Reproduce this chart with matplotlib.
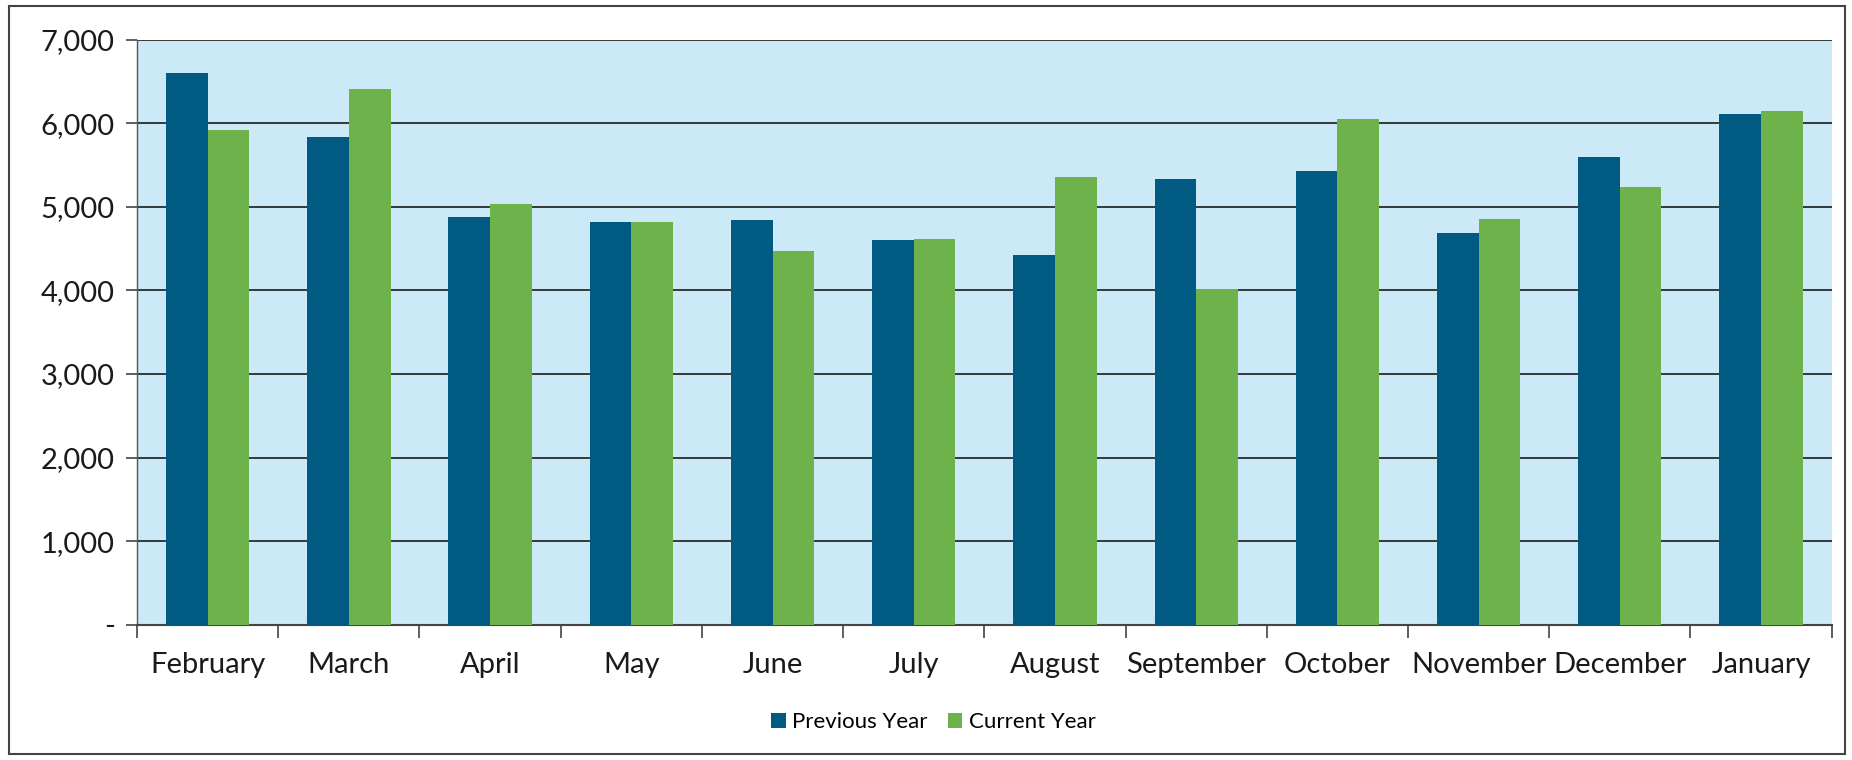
import matplotlib
matplotlib.use("Agg")
import matplotlib.pyplot as plt
import numpy as np
from matplotlib.patches import Rectangle
from matplotlib.ticker import FuncFormatter

months = ["February", "March", "April", "May", "June", "July", "August",
          "September", "October", "November", "December", "January"]
previous_year = [6600, 5830, 4880, 4820, 4840, 4600, 4420, 5330, 5430, 4690, 5600, 6110]
current_year = [5920, 6410, 5030, 4820, 4470, 4610, 5360, 4020, 6050, 4850, 5230, 6140]
series_names = ["Previous Year", "Current Year"]
y_ticks = [0, 1000, 2000, 3000, 4000, 5000, 6000, 7000]

plt.rcParams['font.family'] = ['Lato', 'DejaVu Sans']

fig = plt.figure(figsize=(18.52, 7.6), dpi=100)
fig.patch.set_facecolor("white")
ax = fig.add_axes([0.074, 0.178, 0.915, 0.77])
ax.set_facecolor("#CBE9F7")

x = np.arange(len(months))
w = 0.295
ax.bar(x - w / 2, previous_year, width=w, color="#005A82", label=series_names[0], zorder=3)
ax.bar(x + w / 2, current_year, width=w, color="#6EB24C", label=series_names[1], zorder=3)

ax.set_xlim(-0.5, len(months) - 0.5)
ax.set_ylim(0, 7000)
ax.set_yticks(y_ticks)
ax.yaxis.set_major_formatter(FuncFormatter(lambda v, p: "-" if v == 0 else f"{int(v):,}"))
ax.yaxis.grid(True, color="#2b2b2b", linewidth=1.3, zorder=1)
ax.set_axisbelow(True)

ax.set_xticks(x)
ax.set_xticklabels(months)
ax.set_xticks(np.arange(-0.5, len(months)), minor=True)
ax.tick_params(axis="x", which="major", length=0, pad=20, labelsize=21, colors="#1a1a1a")
ax.tick_params(axis="x", which="minor", length=9, width=1.2, color="#444444", direction="out")
ax.tick_params(axis="y", length=8, width=1.2, color="#444444", pad=8, labelsize=21, labelcolor="#1a1a1a")

for s in ["top", "right"]:
    ax.spines[s].set_visible(False)
ax.spines["left"].set_color("#555555")
ax.spines["left"].set_linewidth(1.0)
ax.spines["bottom"].set_color("#444444")
ax.spines["bottom"].set_linewidth(1.5)

leg = fig.legend(loc="center", bbox_to_anchor=(0.504, 0.050), ncol=2, frameon=False,
                 fontsize=16, handlelength=0.65, handleheight=0.65, handletextpad=0.3,
                 columnspacing=0.9)

fig.add_artist(Rectangle((0.005, 0.008), 0.991, 0.984, transform=fig.transFigure,
                         fill=False, edgecolor="#444444", linewidth=1.5))

fig.savefig("out.png", dpi=100)
